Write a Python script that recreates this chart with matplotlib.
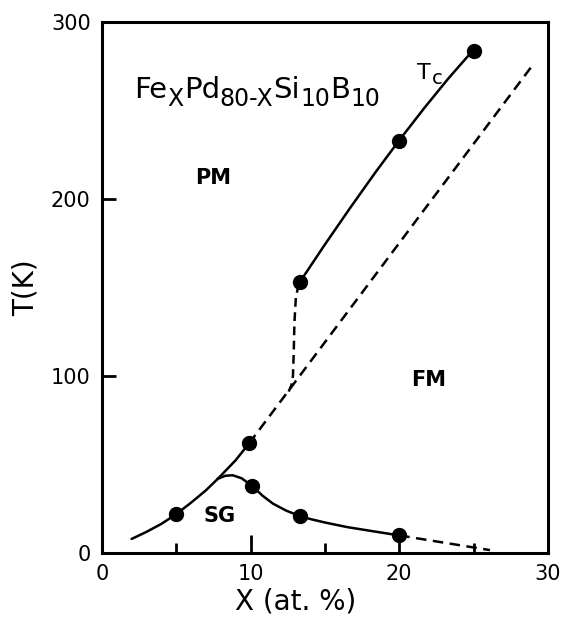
"""Magnetic phase diagram of Fe_x Pd_(80-x) Si10 B10 (PM / FM / SG)."""

import matplotlib
matplotlib.use("Agg")
import matplotlib.pyplot as plt
from matplotlib.ticker import FixedLocator
from matplotlib.transforms import offset_copy

plt.rcParams["font.family"] = ["DejaVu Sans"]

# measured points
tc_x = [13.3, 20.0, 25.0]
tc_y = [153, 233, 284]
low_x = [5.0, 9.9]
low_y = [22, 62]
sg_x = [10.1, 13.3, 20.0]
sg_y = [38, 21, 10]

# guide curves
tc_line_x = [13.3, 15.0, 16.7, 18.4, 20.0, 21.7, 23.3, 25.0]
tc_line_y = [153, 174.4, 195.1, 215.2, 233.3, 251.7, 268.2, 284.5]
tc_drop_x = [13.25, 13.05, 12.95, 12.9, 12.85, 12.75, 12.55]
tc_drop_y = [152, 145, 130, 112, 100, 95, 91]
base_x = [2.0, 3.0, 4.0, 5.0, 6.0, 7.0, 7.8, 9.0, 9.9]
base_y = [8, 12, 16.5, 22, 28.5, 35.5, 42, 52.5, 62]
fm_dash_x = [9.9, 28.9]
fm_dash_y = [62, 275]
sg_line_x = [7.8, 8.3, 8.8, 9.4, 10.1, 10.8, 11.5, 12.4, 13.3, 14.0, 15.0,
             16.5, 18.2, 20.0]
sg_line_y = [42, 43.7, 44, 42.3, 38, 32.5, 28, 24, 21, 19.3, 17.3,
             14.7, 12.4, 10]
sg_dash_x = [20.0, 26.1]
sg_dash_y = [10, 1.7]

x_ticks = [0, 10, 20, 30]
x_minor = [5, 15, 25]
y_ticks = [0, 100, 200, 300]

# composition label pieces: (text, subscript?)
formula = [("Fe", False), ("X", True), ("Pd", False), ("80-X", True),
           ("Si", False), ("10", True), ("B", False), ("10", True)]

fig = plt.figure(figsize=(5.69, 6.18), dpi=100)
ax = fig.add_axes([0.179, 0.105, 0.784, 0.859])

lw = 1.8
dash = (0, (4.2, 2.6))
ax.plot(base_x, base_y, color="black", lw=lw, solid_capstyle="round")
ax.plot(fm_dash_x, fm_dash_y, color="black", lw=lw, linestyle=dash)
ax.plot(tc_line_x, tc_line_y, color="black", lw=lw)
ax.plot(tc_drop_x, tc_drop_y, color="black", lw=lw, linestyle=(0, (3.5, 2.2)))
ax.plot(sg_line_x, sg_line_y, color="black", lw=lw)
ax.plot(sg_dash_x, sg_dash_y, color="black", lw=lw, linestyle=dash)

for xs, ys in [(tc_x, tc_y), (low_x, low_y), (sg_x, sg_y)]:
    ax.plot(xs, ys, "o", color="black", markersize=10, zorder=5)

ax.set_xlim(0, 30)
ax.set_ylim(0, 300)
ax.xaxis.set_major_locator(FixedLocator(x_ticks))
ax.xaxis.set_minor_locator(FixedLocator(x_minor))
ax.yaxis.set_major_locator(FixedLocator(y_ticks))
ax.tick_params(axis="x", which="major", direction="in", length=13, width=2,
               labelsize=15, pad=8)
ax.tick_params(axis="x", which="minor", direction="in", length=7, width=2)
ax.tick_params(axis="y", which="major", direction="in", length=10, width=2,
               labelsize=15, pad=8)
for sp in ax.spines.values():
    sp.set_linewidth(2.2)

ax.set_xlabel("X (at. %)", fontsize=20, labelpad=4)
ax.xaxis.set_label_coords(0.435, -0.065)
ax.set_ylabel("T(K)", fontsize=20, labelpad=8)

# chain the formula pieces one after another, subscripts smaller and lowered
renderer = fig.canvas.get_renderer()
trans = ax.transData
x_off = 0.0
for piece, is_sub in formula:
    size = 17 if is_sub else 21
    dy = -5.5 if is_sub else 0
    t = ax.text(2.2, 257, piece, fontsize=size, va="baseline",
                transform=offset_copy(trans, fig=fig, x=x_off, y=dy, units="points"))
    x_off += t.get_window_extent(renderer).width * 72 / fig.dpi

ax.text(7.5, 212, "PM", fontsize=15, fontweight="bold", ha="center", va="center")
ax.text(22.0, 98, "FM", fontsize=15, fontweight="bold", ha="center", va="center")
ax.text(7.9, 21, "SG", fontsize=15, fontweight="bold", ha="center", va="center")
ax.text(21.2, 268, "T", fontsize=16, va="baseline")
ax.text(21.2, 268, "c", fontsize=14, va="baseline",
        transform=offset_copy(trans, fig=fig, x=10.5, y=-4, units="points"))

fig.savefig("out.png", dpi=100)
